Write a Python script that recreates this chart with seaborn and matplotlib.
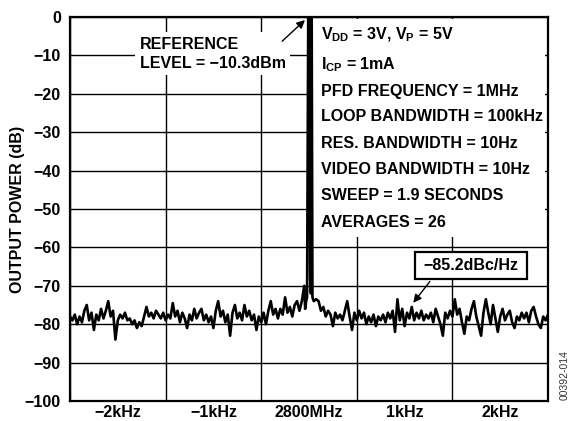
import numpy as np
import pandas as pd
import matplotlib
matplotlib.use("Agg")
import matplotlib.pyplot as plt
from matplotlib.patches import Rectangle
import seaborn as sns

# ---------------- data ----------------
# noise floor left of the carrier: -2500 Hz .. -100 Hz, 25 Hz steps
noise_left_db = [
    -78, -79, -77.5, -80, -78, -79.5, -76.5, -75, -79, -77,
    -81.5, -77.5, -79, -76, -78.5, -76.5, -74, -78, -76.5, -84,
    -79, -77.5, -78.5, -77, -79, -78.5, -80, -79, -81, -79.5,
    -80.5, -78, -75.5, -78, -77, -78.5, -76.5, -77.5, -78.5, -77,
    -79, -77.5, -78.5, -74.5, -78, -76.5, -79.5, -77, -78.5, -81,
    -77.5, -79, -76, -78.5, -77, -76, -79, -77.5, -79.5, -78,
    -81, -76.5, -74, -78, -76.5, -79.5, -77.5, -83, -77, -75,
    -78.5, -77, -79, -75, -78, -76.5, -79, -77.5, -81.5, -78,
    -79.5, -77, -80, -76.5, -74, -77.5, -76, -78.5, -76, -77.5,
    -73, -77, -75.5, -78, -75, -74, -76.5,
]
noise_left_start, noise_step = -2500, 25

# carrier region (Hz, dB)
carrier_freq = [-75, -50, -40, -30, -20, -8, 0, 4, 12, 20, 28, 36, 50, 75]
carrier_db = [-74, -70, -76, -74, -73, 0, -3, 0, -68, -72, 0, -73, -74, -73.5]

# noise floor right of the carrier: 100 Hz .. 2500 Hz, 25 Hz steps
noise_right_db = [
    -74, -76.5, -75.5, -78, -76.5, -77.5, -80.5, -77, -78.5, -77.5,
    -79, -76.5, -74, -78, -81.5, -77, -79, -76.5, -78.5, -77,
    -80, -78, -79.5, -77.5, -80.5, -78, -79, -77.5, -79.5, -77,
    -78.5, -76.5, -82, -73.5, -79, -76, -80.5, -77, -78.5, -75.5,
    -79, -77, -78.5, -76.5, -79, -77.5, -78.5, -77, -79.5, -76,
    -78, -80, -83, -77, -78.5, -76.5, -78, -73.5, -77.5, -76,
    -79.5, -82.5, -78, -79, -76, -74, -78, -80.5, -83, -77,
    -73.5, -77, -80, -75, -78.5, -82, -78, -76, -79, -77.5,
    -76.5, -79.5, -81, -78, -79, -77, -78.5, -77, -79.5, -76.5,
    -75.5, -78, -80, -81, -78, -79, -77.5,
]
noise_right_start = 100

x_ticks = [-2000, -1000, 0, 1000, 2000]
x_ticklabels = ["\u22122kHz", "\u22121kHz", "2800MHz", "1kHz", "2kHz"]
y_ticks = [0, -10, -20, -30, -40, -50, -60, -70, -80, -90, -100]
y_ticklabels = ["0"] + ["\u2212%d" % (-v) for v in y_ticks[1:]]

info_lines = [
    r"V$_{DD}$ = 3V, V$_{P}$ = 5V",
    r"I$_{CP}$ = 1mA",
    "PFD FREQUENCY = 1MHz",
    "LOOP BANDWIDTH = 100kHz",
    "RES. BANDWIDTH = 10Hz",
    "VIDEO BANDWIDTH = 10Hz",
    "SWEEP = 1.9 SECONDS",
    "AVERAGES = 26",
]
info_y = [-4.7, -12.4, -19.3, -26.0, -33.0, -39.8, -46.6, -53.4]

# ---------------- build trace ----------------
left_f = [noise_left_start + noise_step * i for i in range(len(noise_left_db))]
right_f = [noise_right_start + noise_step * i for i in range(len(noise_right_db))]
df = pd.DataFrame({
    "freq": left_f + carrier_freq + right_f,
    "db": noise_left_db + carrier_db + noise_right_db,
})

# ---------------- style ----------------
sns.set_theme(style="white")
plt.rcParams["font.family"] = ["Liberation Sans", "DejaVu Sans"]
plt.rcParams["font.weight"] = "bold"
plt.rcParams["text.color"] = "black"
plt.rcParams["axes.labelcolor"] = "black"
plt.rcParams["xtick.color"] = "black"
plt.rcParams["ytick.color"] = "black"
plt.rcParams["mathtext.fontset"] = "custom"
plt.rcParams["mathtext.rm"] = "Liberation Sans:bold"
plt.rcParams["mathtext.it"] = "Liberation Sans:bold"
plt.rcParams["mathtext.bf"] = "Liberation Sans:bold"

FS = 11.5

fig = plt.figure(figsize=(5.79, 4.21), dpi=100)
ax = fig.add_axes([70 / 579, 1 - 401 / 421, 478 / 579, 384 / 421])

sns.lineplot(data=df, x="freq", y="db", estimator=None, sort=False,
             color="black", lw=1.9, ax=ax, zorder=3)

ax.set_xlim(-2500, 2500)
ax.set_ylim(-100, 0)
ax.set_xticks(x_ticks)
ax.set_xticklabels(x_ticklabels, fontsize=FS, fontweight="bold")
ax.set_yticks(y_ticks)
ax.set_yticklabels(y_ticklabels, fontsize=FS, fontweight="bold")
ax.set_xticks(np.arange(-2500, 2501, 500), minor=True)
ax.tick_params(axis="both", which="both", length=0, labelcolor="black")
ax.tick_params(axis="y", pad=6.5)
ax.tick_params(axis="x", pad=3)
ax.set_xlabel("")
ax.set_ylabel("OUTPUT POWER (dB)", fontsize=FS, fontweight="bold",
              color="black")
ax.yaxis.set_label_coords(-0.094, 0.5)

ax.set_axisbelow(True)
ax.grid(True, which="minor", axis="x", color="black", lw=1.0)
ax.grid(True, which="major", axis="y", color="black", lw=1.0)
for s in ax.spines.values():
    s.set_color("black")
    s.set_linewidth(1.6)

# white panel behind the settings text
ax.add_patch(Rectangle((42, -57.3), 2428, 56.8, facecolor="white",
                       edgecolor="none", zorder=1))
for txt, yv in zip(info_lines, info_y):
    ax.text(125, yv, txt, fontsize=FS, fontweight="bold", ha="left",
            va="center", color="black", zorder=4)

# reference level label
ax.text(-1771, -9.6, "REFERENCE\nLEVEL = \u221210.3dBm", fontsize=FS,
        fontweight="bold", ha="left", va="center", linespacing=1.3,
        color="black",
        bbox=dict(boxstyle="square,pad=0.3", facecolor="white",
                  edgecolor="none"), zorder=4)
ax.annotate("", xy=(-21, -0.3), xytext=(-302, -6.8),
            arrowprops=dict(arrowstyle="-|>", color="black", lw=1.0,
                            mutation_scale=12), zorder=5)

# -85.2 dBc/Hz label
ax.add_patch(Rectangle((1105, -68.2), 1177, 7.0, facecolor="white",
                       edgecolor="black", lw=1.6, zorder=4))
ax.text(1693, -64.7, "\u221285.2dBc/Hz", fontsize=FS, fontweight="bold",
        ha="center", va="center", color="black", zorder=5)
ax.annotate("", xy=(1073, -75), xytext=(1282, -68.3),
            arrowprops=dict(arrowstyle="-|>", color="black", lw=1.0,
                            mutation_scale=12), zorder=5)

fig.text(565 / 579, 1 - 375 / 421, "00392-014", rotation=90, fontsize=7.5,
         fontweight="normal", color="#333333", ha="center", va="center")

fig.savefig("out.png", dpi=100)
